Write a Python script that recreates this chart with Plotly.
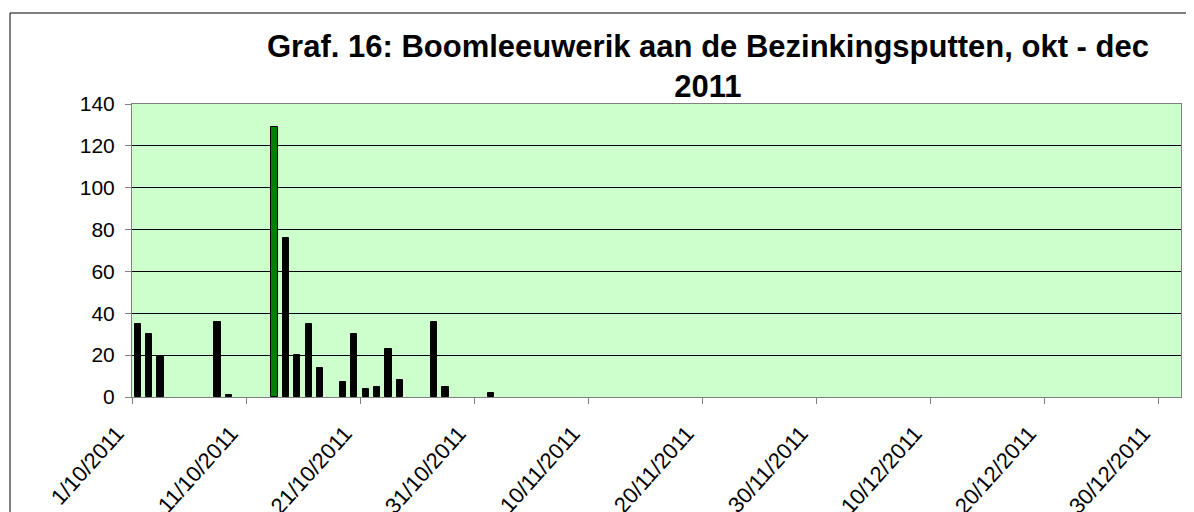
import plotly.graph_objects as go

# ---- data ----
dates = ["2011-10-01", "2011-10-02", "2011-10-03", "2011-10-08", "2011-10-09",
         "2011-10-13", "2011-10-14", "2011-10-15", "2011-10-16", "2011-10-17",
         "2011-10-19", "2011-10-20", "2011-10-21", "2011-10-22", "2011-10-23",
         "2011-10-24", "2011-10-27", "2011-10-28", "2011-11-01"]
counts = [35, 30, 19, 36, 1,
          129, 76, 20, 35, 14,
          7, 30, 4, 5, 23,
          8, 36, 5, 2]
highlight = "2011-10-13"
title_text = "Graf. 16: Boomleeuwerik aan de Bezinkingsputten, okt - dec<br>2011"

DAY_MS = 86400000
W, H = 1194, 512
OFF = 8  # page body margin
L, R, T, B = 132 - OFF, 1181 - OFF, 104 - OFF, 397 - OFF

colors = ["#008000" if d == highlight else "#000000" for d in dates]

fig = go.Figure()
fig.add_trace(go.Bar(
    x=dates, y=counts,
    xperiod=DAY_MS, xperiodalignment="middle",
    width=0.55 * DAY_MS,
    marker=dict(color=colors, line=dict(color="#000000", width=1)),
    showlegend=False,
))

font = "Arial, Liberation Sans, sans-serif"
pw, ph = R - L, B - T

fig.update_layout(
    width=W, height=H,
    margin=dict(l=L, r=W - R, t=T, b=H - B, pad=0, autoexpand=False),
    paper_bgcolor="white",
    plot_bgcolor="#CCFFCC",
    font=dict(family=font, color="black"),
    bargap=0,
    xaxis=dict(
        type="date",
        range=["2011-10-01", "2012-01-01"],
        tick0="2011-10-01", dtick=10 * DAY_MS,
        tickformat="%-d/%m/%Y",
        tickangle=-48,
        tickfont=dict(size=22, family=font, color="black"),
        ticks="outside", ticklen=6, tickcolor="#808080",
        ticklabelshift=-15, ticklabelstandoff=8,
        showgrid=False,
        showline=True, linecolor="#808080", linewidth=1, mirror=True,
        zeroline=False, automargin=False,
    ),
    yaxis=dict(
        range=[0, 140], dtick=20,
        tickfont=dict(size=21, family=font, color="black"),
        ticks="outside", ticklen=6, tickcolor="#808080",
        ticklabelstandoff=6,
        showgrid=True, gridcolor="#000000", gridwidth=1,
        showline=True, linecolor="#808080", linewidth=1, mirror=True,
        zeroline=False, automargin=False,
    ),
    shapes=[dict(
        type="rect", xref="paper", yref="paper",
        x0=(10 - OFF - L) / pw, x1=(W + 20 - L) / pw,
        y0=(B - (H + 20)) / ph, y1=(B - (13 - OFF)) / ph,
        line=dict(color="#000000", width=1), fillcolor="rgba(0,0,0,0)",
        layer="below",
    )],
    annotations=[dict(
        text=title_text, showarrow=False,
        xref="paper", yref="paper",
        x=(708 - OFF - L) / pw, y=(B - (67 - OFF)) / ph,
        xanchor="center", yanchor="middle",
        font=dict(size=31, family=font, color="black", weight="bold"),
    )],
)

fig.write_html("out.html")
